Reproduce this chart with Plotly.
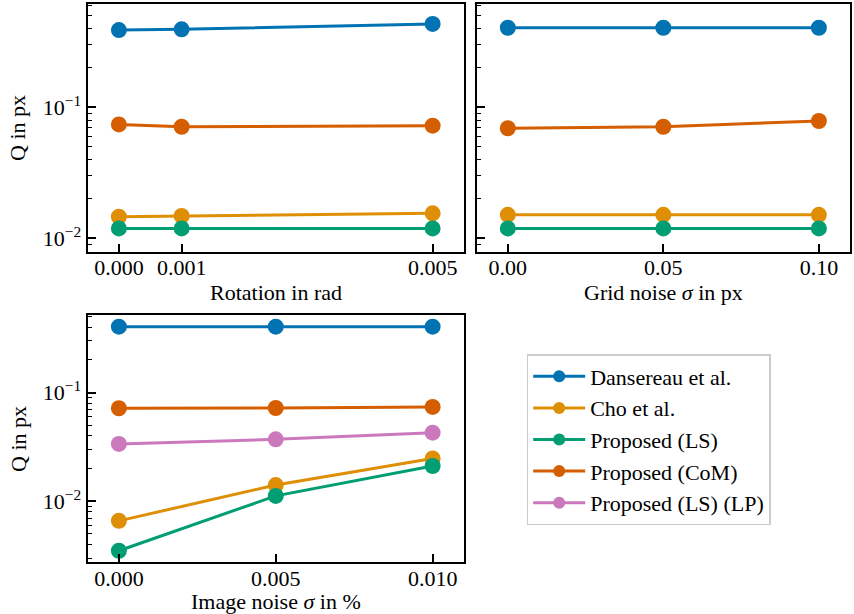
import plotly.graph_objects as go
import numpy as np

# ---------------- data ----------------
series_names = ["Dansereau et al.", "Cho et al.", "Proposed (LS)", "Proposed (CoM)", "Proposed (LS) (LP)"]
colors = ["#0173B2", "#DE8F05", "#029E73", "#D55E00", "#CC78BC"]

rotation_x = [0.0, 0.001, 0.005]
rotation_dansereau = [0.389, 0.394, 0.433]
rotation_cho = [0.0146, 0.0148, 0.0155]
rotation_ls = [0.0119, 0.0119, 0.0119]
rotation_com = [0.0741, 0.0711, 0.0724]

grid_x = [0.0, 0.05, 0.10]
grid_dansereau = [0.405, 0.405, 0.405]
grid_cho = [0.0151, 0.0151, 0.0151]
grid_ls = [0.0119, 0.0119, 0.0119]
grid_com = [0.0692, 0.0711, 0.0786]

image_x = [0.0, 0.005, 0.010]
image_dansereau = [0.405, 0.405, 0.405]
image_cho = [0.0066, 0.0141, 0.0248]
image_ls = [0.0035, 0.0112, 0.0211]
image_com = [0.0719, 0.0722, 0.0739]
image_lslp = [0.0337, 0.0372, 0.0428]

rotation_ticks = ["0.000", "0.001", "0.005"]
grid_ticks = ["0.00", "0.05", "0.10"]
image_ticks = ["0.000", "0.005", "0.010"]

# ---------------- figure ----------------
W, H = 854, 614
FONT = "'Liberation Serif', 'DejaVu Serif', serif"
FS = 22

fig = go.Figure()

def add(xs, ys, idx, xa, ya):
    fig.add_trace(go.Scatter(
        x=xs, y=ys, mode="lines+markers", name=series_names[idx],
        line=dict(color=colors[idx], width=3),
        marker=dict(color=colors[idx], size=16),
        xaxis=xa, yaxis=ya, showlegend=False,
    ))

add(rotation_x, rotation_dansereau, 0, "x", "y")
add(rotation_x, rotation_cho, 1, "x", "y")
add(rotation_x, rotation_ls, 2, "x", "y")
add(rotation_x, rotation_com, 3, "x", "y")

add(grid_x, grid_dansereau, 0, "x2", "y2")
add(grid_x, grid_cho, 1, "x2", "y2")
add(grid_x, grid_ls, 2, "x2", "y2")
add(grid_x, grid_com, 3, "x2", "y2")

add(image_x, image_dansereau, 0, "x3", "y3")
add(image_x, image_cho, 1, "x3", "y3")
add(image_x, image_ls, 2, "x3", "y3")
add(image_x, image_com, 3, "x3", "y3")
add(image_x, image_lslp, 4, "x3", "y3")

# legend entries (smaller legend markers, as in the reference)
for i, nm in enumerate(series_names):
    fig.add_trace(go.Scatter(
        x=[None], y=[None], mode="lines+markers", name=nm,
        line=dict(color=colors[i], width=3),
        marker=dict(color=colors[i], size=12),
        xaxis="x3", yaxis="y3", showlegend=True, legendrank=i + 1,
    ))

def px_x(a, b):
    return [a / W, b / W]

def px_y(top, bottom):
    return [1 - bottom / H, 1 - top / H]

axis_common = dict(
    showline=True, linecolor="black", linewidth=2, mirror=True,
    ticks="inside", ticklen=8, tickwidth=1.5, tickcolor="black",
    showgrid=False, zeroline=False, automargin=False,
    tickfont=dict(family=FONT, size=FS, color="black"),
)
xaxis_extra = dict(ticklabelstandoff=-5)

minor_top = [0.009, 0.02, 0.03, 0.04, 0.05, 0.06, 0.07, 0.08, 0.09, 0.2, 0.3, 0.4, 0.5, 0.6]
minor_bot = [0.003, 0.004, 0.005, 0.006, 0.007, 0.008, 0.009,
             0.02, 0.03, 0.04, 0.05, 0.06, 0.07, 0.08, 0.09, 0.2, 0.3, 0.4, 0.5]
minor_style = dict(ticks="inside", ticklen=4, tickwidth=1.2, tickcolor="black")

fig.update_layout(
    width=W, height=H,
    margin=dict(l=0, r=0, t=0, b=0, pad=0),
    paper_bgcolor="white", plot_bgcolor="white",
    font=dict(family=FONT, size=FS, color="black"),
    xaxis=dict(domain=px_x(87.5, 464), range=[-0.0005, 0.0055],
               tickvals=rotation_x, ticktext=rotation_ticks, anchor="y",
               **axis_common, **xaxis_extra),
    yaxis=dict(domain=px_y(4, 252), type="log", range=[np.log10(0.00786), np.log10(0.615)],
               tickvals=[0.01, 0.1], ticktext=["10<sup>−2</sup>", "10<sup>−1</sup>"],
               minor=dict(tickvals=minor_top, **minor_style), anchor="x", **axis_common),
    xaxis2=dict(domain=px_x(476.7, 850), range=[-0.01, 0.11],
                tickvals=grid_x, ticktext=grid_ticks, anchor="y2",
                **axis_common, **xaxis_extra),
    yaxis2=dict(domain=px_y(4, 252), type="log", range=[np.log10(0.00786), np.log10(0.615)],
                tickvals=[0.01, 0.1], showticklabels=False,
                minor=dict(tickvals=minor_top, **minor_style), anchor="x2", **axis_common),
    xaxis3=dict(domain=px_x(87.5, 464), range=[-0.001, 0.011],
                tickvals=image_x, ticktext=image_ticks, anchor="y3",
                **axis_common, **xaxis_extra),
    yaxis3=dict(domain=px_y(315, 562.3), type="log", range=[np.log10(0.00274), np.log10(0.519)],
                tickvals=[0.01, 0.1], ticktext=["10<sup>−2</sup>", "10<sup>−1</sup>"],
                minor=dict(tickvals=minor_bot, **minor_style), anchor="x3", **axis_common),
    legend=dict(x=526.7 / W, y=1 - 354 / H, xanchor="left", yanchor="top",
                bordercolor="#cccccc", borderwidth=1.5, bgcolor="white",
                font=dict(family=FONT, size=FS, color="black"),
                itemwidth=52, traceorder="normal"),
)

def ann(text, x, y, angle=0):
    fig.add_annotation(text=text, x=x / W, y=1 - y / H, xref="paper", yref="paper",
                       showarrow=False, textangle=angle, xanchor="center", yanchor="middle",
                       font=dict(family=FONT, size=FS, color="black"))

ann("Q in px", 18, 128, -90)
ann("Q in px", 18, 439, -90)
ann("Rotation in rad", 275.8, 292)
ann("Grid noise <i>σ</i> in px", 663.3, 292)
ann("Image noise <i>σ</i> in %", 275.8, 601)

fig.write_html("out.html", config={"displayModeBar": False},
               post_script="document.body.style.margin='0';document.body.style.padding='0';")
